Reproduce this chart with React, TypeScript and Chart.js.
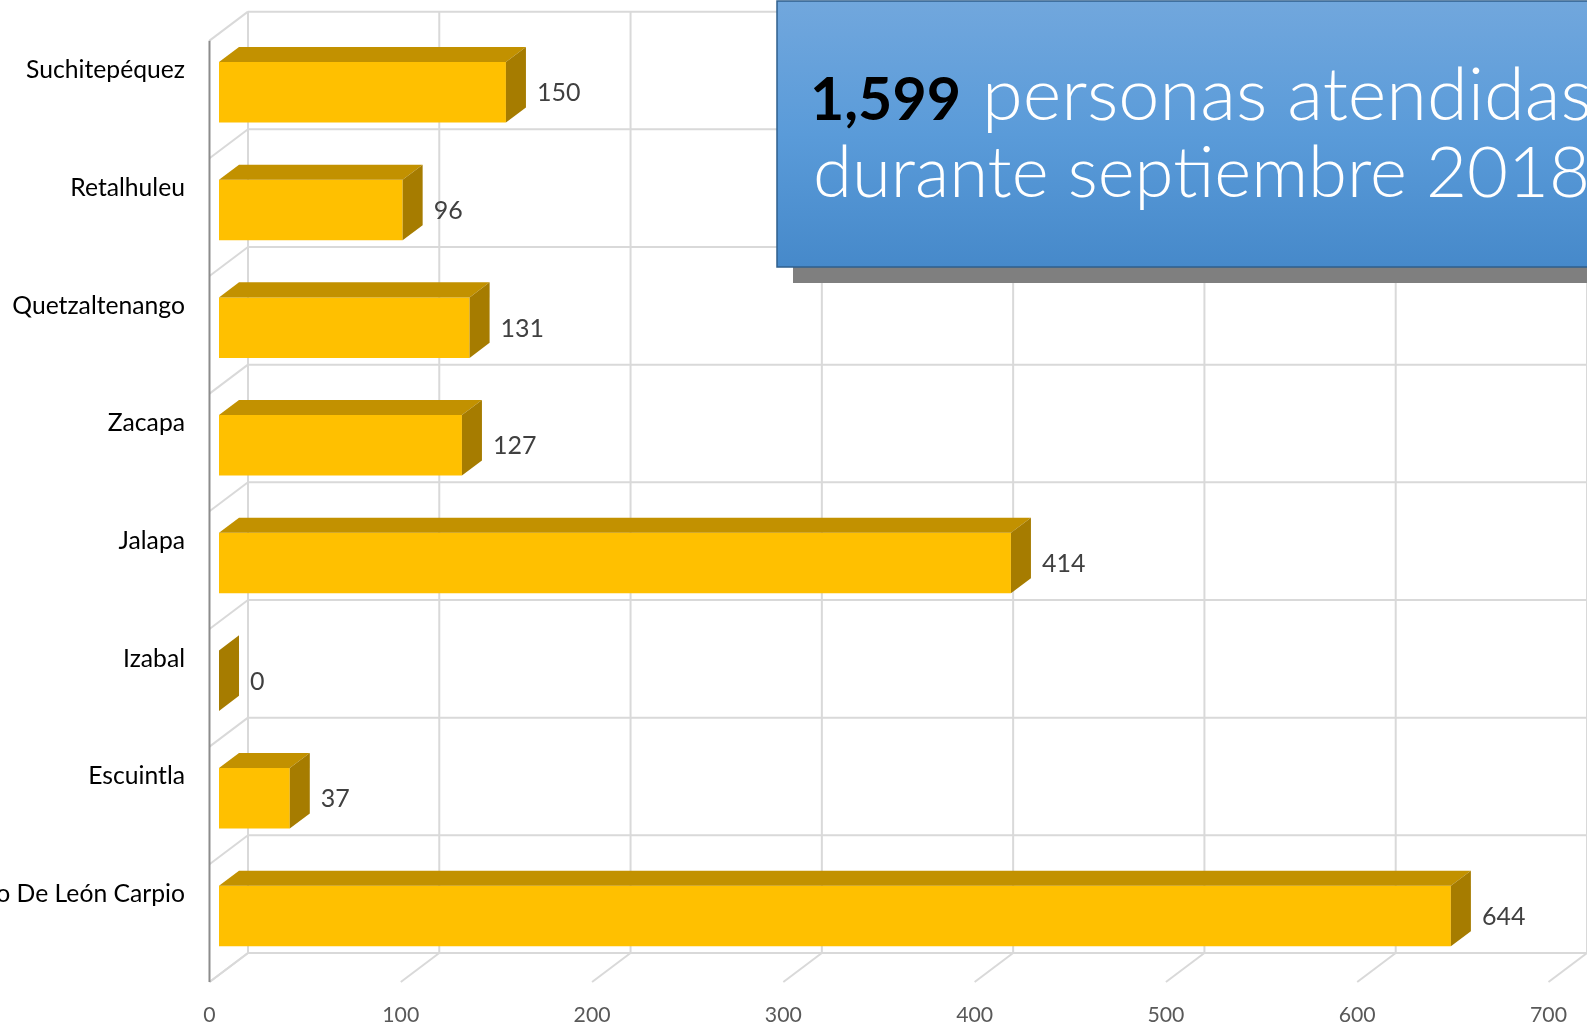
import React, { useEffect, useRef } from "react";
import { Chart, registerables } from "chart.js";

Chart.register(...registerables);

// ---------- data ----------
const categories = [
  "Suchitepéquez",
  "Retalhuleu",
  "Quetzaltenango",
  "Zacapa",
  "Jalapa",
  "Izabal",
  "Escuintla",
  "Ramiro De León Carpio",
];
const values = [150, 96, 131, 127, 414, 0, 37, 644];
const xTicks = [0, 100, 200, 300, 400, 500, 600, 700];
const titleTotal = "1,599";
const titleRest = " personas atendidas";
const titleLine2 = "durante septiembre 2018";

// ---------- geometry / style ----------
const W = 1587;
const H = 1028;
const DEPTH_X = 38.5;
const DEPTH_Y = -29;
const T0 = 0.247; // depth of bar front faces
const T1 = 0.767; // depth of bar back faces

const fitSize = (ctx: CanvasRenderingContext2D, text: string, target: number, font: (s: number) => string) => {
  ctx.font = font(100);
  const w = ctx.measureText(text).width;
  return (100 * target) / w;
};

const threeD = {
  id: "threeD",
  beforeDatasetsDraw(chart: any) {
    const { ctx } = chart;
    const xs = chart.scales.x;
    const ys = chart.scales.y;
    const n = categories.length;
    const P = (v: number, yPix: number, t: number): [number, number] => [
      xs.getPixelForValue(v) + (t - T0) * DEPTH_X,
      yPix + (t - T0) * DEPTH_Y,
    ];
    const bounds: number[] = [];
    for (let k = 0; k <= n; k++) bounds.push(ys.getPixelForValue(k - 0.5));
    const line = (a: [number, number], b: [number, number]) => {
      ctx.beginPath();
      ctx.moveTo(a[0], a[1]);
      ctx.lineTo(b[0], b[1]);
      ctx.stroke();
    };
    ctx.save();
    ctx.strokeStyle = "#d9d9d9";
    ctx.lineWidth = 2;
    const vmax = xTicks[xTicks.length - 1];
    for (const v of xTicks) line(P(v, bounds[0], 1), P(v, bounds[n], 1));
    for (const b of bounds) line(P(0, b, 1), P(vmax, b, 1));
    for (const v of xTicks) line(P(v, bounds[n], 1), P(v, bounds[n], 0));
    for (const b of bounds) line(P(0, b, 0), P(0, b, 1));
    ctx.strokeStyle = "#8c8c8c";
    ctx.lineWidth = 2;
    line(P(0, bounds[0], 0), P(0, bounds[n], 0));

    // category labels
    const catFont = (s: number) => `${s}px Lato, "Noto Sans", sans-serif`;
    const catSize = fitSize(ctx, categories[0], 159, catFont);
    ctx.font = catFont(catSize);
    ctx.fillStyle = "#000000";
    ctx.textAlign = "right";
    ctx.textBaseline = "middle";
    categories.forEach((c, i) => {
      const [fx] = P(0, 0, 0);
      const cy = ys.getPixelForValue(i) - 22;
      ctx.fillText(c, fx - 24.5, cy);
    });

    // tick labels
    const tickFont = (s: number) => `${s}px Lato, "Noto Sans", sans-serif`;
    const tickSize = fitSize(ctx, "100", 37, tickFont);
    ctx.font = tickFont(tickSize);
    ctx.fillStyle = "#595959";
    ctx.textAlign = "center";
    ctx.textBaseline = "middle";
    for (const v of xTicks) {
      const [tx, ty] = P(v, bounds[n], 0);
      ctx.fillText(String(v), tx, ty + 33);
    }
    ctx.restore();
  },
  afterDatasetsDraw(chart: any) {
    const { ctx } = chart;
    const meta = chart.getDatasetMeta(0);
    const dx = (T1 - T0) * DEPTH_X;
    const dy = (T1 - T0) * DEPTH_Y;
    ctx.save();
    const labFont = (s: number) => `${s}px Lato, "Noto Sans", sans-serif`;
    const labSize = fitSize(ctx, "644", 43.5, labFont);
    meta.data.forEach((el: any, i: number) => {
      const { x, y, base, height } = el.getProps(["x", "y", "base", "height"], true);
      const left = Math.min(x, base);
      const right = Math.max(x, base);
      const top = y - height / 2;
      const bottom = y + height / 2;
      // top face
      ctx.fillStyle = "#C29100";
      ctx.beginPath();
      ctx.moveTo(left, top);
      ctx.lineTo(right, top);
      ctx.lineTo(right + dx, top + dy);
      ctx.lineTo(left + dx, top + dy);
      ctx.closePath();
      ctx.fill();
      // side face
      ctx.fillStyle = "#A67C00";
      ctx.beginPath();
      ctx.moveTo(right, top);
      ctx.lineTo(right + dx, top + dy);
      ctx.lineTo(right + dx, bottom + dy);
      ctx.lineTo(right, bottom);
      ctx.closePath();
      ctx.fill();
      // value label
      ctx.font = labFont(labSize);
      ctx.fillStyle = "#404040";
      ctx.textAlign = "left";
      ctx.textBaseline = "middle";
      ctx.fillText(String(values[i]), right + dx + 11, y + 1);
    });
    ctx.restore();
  },
  afterDraw(chart: any) {
    const { ctx } = chart;
    ctx.save();
    // shadow
    ctx.fillStyle = "#7f7f7f";
    ctx.fillRect(793, 17, 900, 266);
    // box
    const g = ctx.createLinearGradient(0, 1, 0, 267);
    g.addColorStop(0, "#71A7DD");
    g.addColorStop(0.5, "#5A9BD9");
    g.addColorStop(1, "#4689CA");
    ctx.fillStyle = g;
    ctx.fillRect(777, 1, 900, 266);
    ctx.strokeStyle = "#2F5F8C";
    ctx.lineWidth = 1.5;
    ctx.strokeRect(777, 1, 900, 266);

    const reg = (s: number) => `300 ${s}px Lato, "Noto Sans", sans-serif`;
    const bold = (s: number) => `bold ${s}px Lato, "Noto Sans", sans-serif`;
    const size2 = fitSize(ctx, titleLine2, 777, reg);
    const sizeB = fitSize(ctx, titleTotal, 151, bold);
    const sizeR = fitSize(ctx, titleRest.trim(), 610, reg);
    ctx.textAlign = "left";
    ctx.textBaseline = "alphabetic";
    ctx.font = bold(sizeB);
    ctx.fillStyle = "#000000";
    ctx.fillText(titleTotal, 810, 120);
    ctx.font = reg(sizeR);
    ctx.fillStyle = "#ffffff";
    ctx.fillText(titleRest.trim(), 982, 120);
    ctx.font = reg(size2);
    ctx.fillText(titleLine2, 813, 197);
    ctx.restore();
  },
};

export default function App() {
  const ref = useRef<HTMLCanvasElement | null>(null);
  useEffect(() => {
    if (!ref.current) return;
    const chart = new Chart(ref.current, {
      type: "bar",
      data: {
        labels: categories,
        datasets: [
          {
            data: values,
            backgroundColor: "#FFC000",
            borderWidth: 0,
            barPercentage: 0.514,
            categoryPercentage: 1,
          },
        ],
      },
      options: {
        indexAxis: "y",
        animation: false,
        responsive: false,
        events: [],
        layout: { padding: { left: 219, right: 29, top: 33.5, bottom: 53.2 } },
        plugins: { legend: { display: false }, tooltip: { enabled: false } },
        scales: {
          x: { type: "linear", min: 0, max: 700, display: false },
          y: { type: "category", display: false },
        },
      },
      plugins: [threeD],
    } as any);
    return () => chart.destroy();
  }, []);
  return (
    <div style={{ position: "fixed", left: 0, top: 0, width: W, height: H, background: "#ffffff", overflow: "hidden" }}>
      <canvas ref={ref} width={W} height={H} style={{ display: "block" }} />
    </div>
  );
}
